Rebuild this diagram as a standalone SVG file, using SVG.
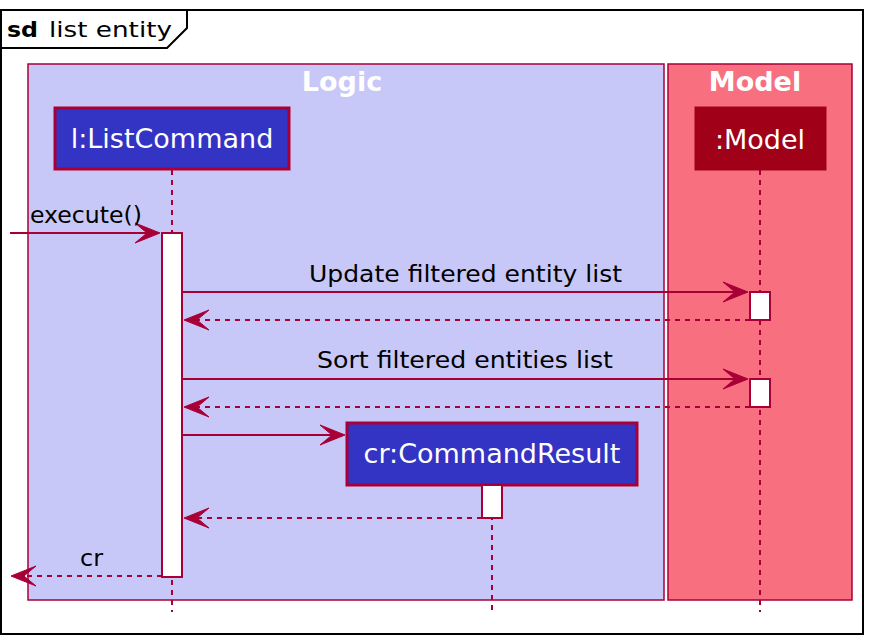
<svg xmlns="http://www.w3.org/2000/svg" width="874" height="644" viewBox="0 0 874 644">
<style>
text{font-family:"DejaVu Sans","Liberation Sans",sans-serif}
.msg{font-size:23.5px;fill:#000}
.ptxt{font-size:27px;fill:#fff;text-anchor:middle}
.btitle{font-size:27px;font-weight:bold;fill:#fff;text-anchor:middle}
.life{stroke:#A80036;stroke-width:2;stroke-dasharray:5,5;fill:none}
.act{fill:#fff;stroke:#A80036;stroke-width:2}
.solid{stroke:#A80036;stroke-width:2;fill:none}
.dash{stroke:#A80036;stroke-width:2;stroke-dasharray:5,5;fill:none}
.head{fill:#A80036;stroke:#A80036;stroke-width:1}
</style>
<rect width="874" height="644" fill="#fff"/>
<g id="frame">
<rect x="1" y="10" width="862" height="624" fill="none" stroke="#000" stroke-width="2"/>
<path d="M1,48 H167 L187,28 V10" fill="none" stroke="#000" stroke-width="2"/>
<text x="7" y="37" style="font-size:22px;font-weight:bold" textLength="31" lengthAdjust="spacingAndGlyphs">sd</text>
<text x="49" y="37" style="font-size:22px" textLength="123" lengthAdjust="spacingAndGlyphs">list entity</text>
</g>
<g id="box-logic">
<rect x="28" y="64" width="636" height="536" fill="#C8C8F8" stroke="#A80036" stroke-width="1.5"/>
<text class="btitle" x="342" y="91">Logic</text>
</g>
<g id="box-model">
<rect x="668" y="64" width="184" height="536" fill="#F87080" stroke="#A80036" stroke-width="1.5"/>
<text class="btitle" x="755" y="91">Model</text>
</g>
<g id="lifelines">
<line class="life" x1="172" y1="170" x2="172" y2="612"/>
<line class="life" x1="760" y1="170" x2="760" y2="612"/>
<line class="life" x1="492" y1="485" x2="492" y2="612"/>
</g>
<g id="p-listcommand">
<rect x="55" y="108" width="234" height="61" fill="#3333C4" stroke="#A80036" stroke-width="3"/>
<text class="ptxt" x="172" y="148">l:ListCommand</text>
</g>
<g id="p-model">
<rect x="695" y="107" width="131" height="63" fill="#A00018" stroke="#A00018" stroke-width="1"/>
<text class="ptxt" x="760" y="149">:Model</text>
</g>
<g id="p-commandresult">
<rect x="347" y="423" width="290" height="62" fill="#3333C4" stroke="#A80036" stroke-width="3"/>
<text class="ptxt" x="492" y="463">cr:CommandResult</text>
</g>
<g id="activations">
<rect class="act" x="162" y="233" width="20" height="344"/>
<rect class="act" x="750" y="292" width="20" height="28"/>
<rect class="act" x="750" y="379" width="20" height="28"/>
<rect class="act" x="482" y="485" width="20" height="33"/>
</g>
<g id="connectors">
<line class="solid" x1="10" y1="233" x2="158" y2="233"/>
<polygon class="head" points="160,233 135,223 147,233 135,243"/>
<text class="msg" x="30" y="223" textLength="112" lengthAdjust="spacingAndGlyphs">execute()</text>

<line class="solid" x1="182" y1="292" x2="746" y2="292"/>
<polygon class="head" points="748,292 723,282 735,292 723,302"/>
<text class="msg" x="309" y="282" textLength="313" lengthAdjust="spacingAndGlyphs">Update filtered entity list</text>
<line class="dash" x1="750" y1="320" x2="186" y2="320"/>
<polygon class="head" points="184,320 209,310 197,320 209,330"/>

<line class="solid" x1="182" y1="379" x2="746" y2="379"/>
<polygon class="head" points="748,379 723,369 735,379 723,389"/>
<text class="msg" x="317" y="368" textLength="296" lengthAdjust="spacingAndGlyphs">Sort filtered entities list</text>
<line class="dash" x1="750" y1="407" x2="186" y2="407"/>
<polygon class="head" points="184,407 209,397 197,407 209,417"/>

<line class="solid" x1="182" y1="435" x2="343" y2="435"/>
<polygon class="head" points="345,435 320,425 332,435 320,445"/>

<line class="dash" x1="482" y1="518" x2="186" y2="518"/>
<polygon class="head" points="184,518 209,508 197,518 209,528"/>

<line class="dash" x1="162" y1="576" x2="14" y2="576"/>
<polygon class="head" points="11,576 36,566 24,576 36,586"/>
<text class="msg" x="80" y="566" textLength="23" lengthAdjust="spacingAndGlyphs">cr</text>
</g>
</svg>
